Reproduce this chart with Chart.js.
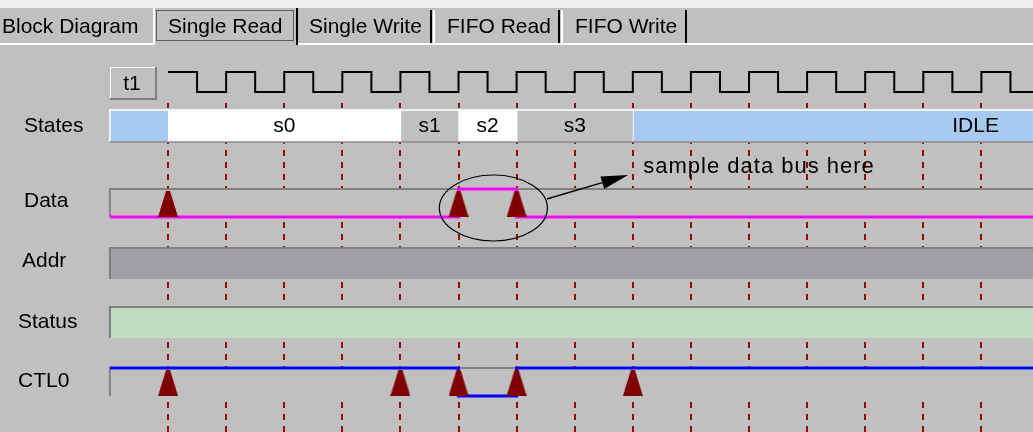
<!DOCTYPE html>
<html>
<head>
  <meta charset="utf-8">
  <title>Single Read timing</title>
  <script src="https://cdn.jsdelivr.net/npm/chart.js"></script>
  <style>
    html, body {
      margin: 0;
      padding: 0;
      background: #c0c0c0;
    }
    .wrap {
      position: relative;
      width: 1033px;
      height: 432px;
    }
  </style>
</head>
<body>
  <div class="wrap"><canvas id="timing"></canvas></div>

  <script>
    // time axis is in clock cycles, cycle 0 = first rising edge of t1
    const gridCycles  = [0, 1, 2, 3, 4, 5, 6, 7, 8, 9, 10, 11, 12, 13, 14];
    const clockLevels = [1, 0, 1, 0, 1, 0, 1, 0, 1, 0, 1, 0, 1, 0, 1, 0, 1, 0, 1, 0, 1, 0, 1, 0, 1, 0, 1, 0, 1, 0];

    const stateNames = ['', 's0', 's1', 's2', 's3', 'IDLE'];
    const stateStart = [-1, 0, 4, 5, 6, 8];
    const stateEnd   = [0, 4, 5, 6, 8, 19.8];

    const dataEdges  = [-1, 5, 6, 15];
    const dataLevels = [0, 1, 0];
    const ctl0Edges  = [-1, 5, 6, 15];
    const ctl0Levels = [1, 0, 1];
    const addrSpan   = [-1, 15];
    const statusSpan = [-1, 15];

    const dataMarks = [0, 5, 6];
    const ctl0Marks = [0, 4, 5, 6, 8];

    const rowNames = ['States', 'Data', 'Addr', 'Status', 'CTL0'];
    const tabNames = ['Block Diagram', 'Single Read', 'Single Write', 'FIFO Read', 'FIFO Write'];
    const note     = 'sample data bus here';

    // ---- layout / style ----
    const BG = '#c0c0c0';
    const FONT = '"Liberation Sans", Arial, sans-serif';
    const X_MIN = -2.892, X_MAX = 14.888;
    const ROW = {
      clock:  { top: 72,  bottom: 92 },
      States: { top: 110, bottom: 142, label: 126, labelX: 24 },
      Data:   { top: 189, bottom: 217, label: 201, labelX: 24 },
      Addr:   { top: 248, bottom: 279, label: 261, labelX: 22 },
      Status: { top: 307, bottom: 338, label: 322, labelX: 18 },
      CTL0:   { top: 368, bottom: 396, label: 381, labelX: 18 }
    };
    const stateColor = name => (name === '' || name === 'IDLE') ? '#a6caf0'
                             : (name === 's0' || name === 's2') ? '#ffffff' : BG;
    const tabX = [2, 168, 309, 447, 575];

    // marker shape: dark red pyramid
    const tri = document.createElement('canvas');
    tri.width = 20; tri.height = 26;
    const tc = tri.getContext('2d');
    tc.fillStyle = '#800000';
    tc.beginPath();
    tc.moveTo(8, 0); tc.lineTo(12, 0); tc.lineTo(20, 26); tc.lineTo(0, 26);
    tc.closePath();
    tc.fill();

    function wave(edges, levels, row) {
      const pts = levels.map((lv, i) => ({ x: edges[i], y: lv ? row.top : row.bottom }));
      pts.push({ x: edges[edges.length - 1], y: pts[pts.length - 1].y });
      return pts;
    }
    function frame(span, row) {
      return [{ x: span[0], y: row.bottom }, { x: span[0], y: row.top }, { x: span[1], y: row.top }];
    }

    const datasets = [];

    // state cells
    stateNames.forEach((name, i) => {
      datasets.push({
        data: frame([stateStart[i], stateEnd[i]], ROW.States),
        borderColor: '#ffffff', borderWidth: 1.5,
        backgroundColor: stateColor(name),
        fill: { value: ROW.States.bottom }, order: 4
      });
    });
    datasets.push({
      data: [{ x: -1, y: ROW.States.bottom }, { x: 15, y: ROW.States.bottom }],
      borderColor: '#8c8c8c', borderWidth: 1.5, order: 3
    });

    // row frames
    datasets.push({ data: frame(addrSpan, ROW.Data), borderColor: '#808080', borderWidth: 2,
      backgroundColor: BG, fill: { value: ROW.Data.bottom }, order: 4 });
    datasets.push({ data: frame(addrSpan, ROW.Addr), borderColor: '#808080', borderWidth: 2,
      backgroundColor: '#a0a0a4', fill: { value: ROW.Addr.bottom }, order: 4 });
    datasets.push({ data: frame(statusSpan, ROW.Status), borderColor: '#808080', borderWidth: 2,
      backgroundColor: '#c0dcc0', fill: { value: ROW.Status.bottom }, order: 4 });
    datasets.push({ data: frame(addrSpan, ROW.CTL0), borderColor: '#808080', borderWidth: 2,
      backgroundColor: BG, fill: { value: ROW.CTL0.bottom }, order: 4 });

    // waveforms
    const clockPts = clockLevels.map((lv, i) => ({ x: i / 2, y: lv ? ROW.clock.top : ROW.clock.bottom }));
    clockPts.push({ x: clockLevels.length / 2, y: clockPts[clockPts.length - 1].y });
    datasets.push({ data: clockPts, stepped: true, borderColor: '#000000', borderWidth: 2, order: 2 });
    datasets.push({ data: wave(dataEdges, dataLevels, ROW.Data), stepped: true,
      borderColor: '#ff00ff', borderWidth: 3, order: 2 });
    datasets.push({ data: wave(ctl0Edges, ctl0Levels, ROW.CTL0), stepped: true,
      borderColor: '#0000ff', borderWidth: 3, order: 2 });

    // sampling markers
    datasets.push({ data: dataMarks.map(c => ({ x: c, y: ROW.Data.bottom - 13 })),
      showLine: false, pointStyle: tri, pointRadius: 10, order: 1 });
    datasets.push({ data: ctl0Marks.map(c => ({ x: c, y: ROW.CTL0.bottom - 13 })),
      showLine: false, pointStyle: tri, pointRadius: 10, order: 1 });

    // window chrome: tabs, t1 button, mask over the grid above the rows
    const chromePlugin = {
      id: 'chrome',
      beforeDatasetsDraw(chart) {
        const ctx = chart.ctx, W = chart.width;
        ctx.save();
        ctx.fillStyle = BG;
        ctx.fillRect(0, 0, W, 103);
        ctx.fillStyle = '#ececec';
        ctx.fillRect(0, 0, W, 8);

        ctx.fillStyle = '#ffffff';
        ctx.fillRect(0, 43, 153, 2);
        ctx.fillRect(298, 43, W - 298, 2);
        ctx.fillRect(153, 8, 2, 37);
        ctx.fillRect(433, 10, 2, 33);
        ctx.fillRect(561, 10, 2, 33);
        ctx.fillStyle = '#000000';
        ctx.fillRect(296, 8, 2, 37);
        ctx.fillRect(430, 10, 2, 33);
        ctx.fillRect(558, 10, 2, 33);
        ctx.fillRect(685, 10, 2, 33);

        ctx.strokeStyle = '#000000';
        ctx.lineWidth = 1;
        ctx.setLineDash([1, 1]);
        ctx.strokeRect(156.5, 10.5, 137, 30);
        ctx.setLineDash([]);

        ctx.font = '21px ' + FONT;
        ctx.fillStyle = '#000000';
        ctx.textBaseline = 'middle';
        ctx.textAlign = 'left';
        tabNames.forEach((t, i) => ctx.fillText(t, tabX[i], 27));

        // t1 button
        ctx.fillStyle = '#ffffff';
        ctx.fillRect(110, 67, 47, 1);
        ctx.fillRect(110, 67, 1, 33);
        ctx.fillStyle = '#808080';
        ctx.fillRect(110, 98, 47, 2);
        ctx.fillRect(155, 67, 2, 33);
        ctx.fillStyle = '#000000';
        ctx.textAlign = 'center';
        ctx.fillText('t1', 132, 84);
        ctx.restore();
      }
    };

    // labels and the note
    const labelPlugin = {
      id: 'labels',
      afterDatasetsDraw(chart) {
        const ctx = chart.ctx, x = chart.scales.x, y = chart.scales.y;
        ctx.save();
        ctx.font = '21px ' + FONT;
        ctx.fillStyle = '#000000';
        ctx.textBaseline = 'middle';
        ctx.textAlign = 'left';
        rowNames.forEach(n => ctx.fillText(n, ROW[n].labelX, y.getPixelForValue(ROW[n].label)));

        ctx.textAlign = 'center';
        stateNames.forEach((n, i) => {
          if (!n) return;
          const cx = (x.getPixelForValue(stateStart[i]) + x.getPixelForValue(stateEnd[i])) / 2;
          ctx.fillText(n, cx, y.getPixelForValue(ROW.States.label));
        });

        // ellipse round the sampled pulse
        const cx = x.getPixelForValue(5.6), cy = y.getPixelForValue(208);
        const rx = x.getPixelForValue(6.53) - cx, ry = y.getPixelForValue(241) - cy;
        ctx.strokeStyle = '#000000';
        ctx.lineWidth = 1.2;
        ctx.beginPath();
        ctx.ellipse(cx, cy, rx, ry, 0, 0, Math.PI * 2);
        ctx.stroke();

        // arrow to the note
        const x0 = x.getPixelForValue(6.52), y0 = y.getPixelForValue(199);
        const x1 = x.getPixelForValue(7.92), y1 = y.getPixelForValue(175);
        const a = Math.atan2(y1 - y0, x1 - x0), L = 27, H = 6.5;
        const bx = x1 - L * Math.cos(a), by = y1 - L * Math.sin(a);
        ctx.lineWidth = 1.5;
        ctx.beginPath();
        ctx.moveTo(x0, y0);
        ctx.lineTo(bx, by);
        ctx.stroke();
        ctx.fillStyle = '#000000';
        ctx.beginPath();
        ctx.moveTo(x1, y1);
        ctx.lineTo(bx + H * Math.sin(a), by - H * Math.cos(a));
        ctx.lineTo(bx - H * Math.sin(a), by + H * Math.cos(a));
        ctx.closePath();
        ctx.fill();

        ctx.font = '22px ' + FONT;
        ctx.letterSpacing = '1px';
        ctx.textAlign = 'left';
        ctx.textBaseline = 'alphabetic';
        ctx.fillText(note, x.getPixelForValue(8.18), y.getPixelForValue(173));
        ctx.restore();
      }
    };

    new Chart(document.getElementById('timing'), {
      type: 'line',
      data: { datasets },
      options: {
        responsive: true,
        maintainAspectRatio: false,
        animation: false,
        layout: { padding: 0, autoPadding: false },
        elements: { point: { radius: 0 }, line: { tension: 0 } },
        plugins: { legend: { display: false }, tooltip: { enabled: false } },
        events: [],
        scales: {
          x: {
            type: 'linear',
            min: X_MIN,
            max: X_MAX,
            afterBuildTicks: s => { s.ticks = gridCycles.map(v => ({ value: v })); },
            ticks: { display: false },
            grid: { drawTicks: false, lineWidth: 2, color: '#9b0a0a' },
            border: { display: false, dash: [6, 6], dashOffset: 6 }
          },
          y: { min: 0, max: 432, reverse: true, display: false }
        }
      },
      plugins: [chromePlugin, labelPlugin]
    });
  </script>
</body>
</html>
